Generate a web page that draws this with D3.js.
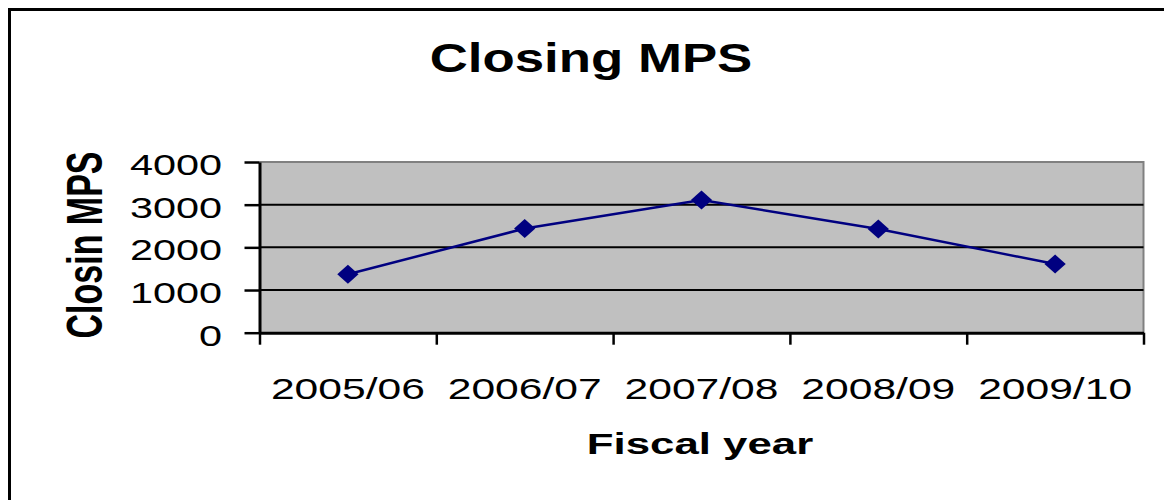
<!DOCTYPE html>
<html>
<head>
<meta charset="utf-8">
<script src="https://cdn.jsdelivr.net/npm/d3@7"></script>
<style>
  html, body { margin: 0; padding: 0; background: #fff; overflow: hidden; }
  svg { display: block; font-family: "Liberation Sans", Arial, sans-serif; }
</style>
</head>
<body>
<svg id="chart" width="1164" height="500"></svg>
<script>
// Closing market price per share by fiscal year
const fiscalYears = ["2005/06", "2006/07", "2007/08", "2008/09", "2009/10"];
const closingMps = [1370, 2440, 3110, 2430, 1610];
const yTicks = [0, 1000, 2000, 3000, 4000];

const chartTitle = "Closing MPS";
const xTitle = "Fiscal year";
const yTitle = "Closin MPS";

const W = 1164, H = 500;
const plot = { left: 259.5, right: 1143.5, top: 162, bottom: 332.7 };

const svg = d3.select("#chart");

// outer chart frame (runs off the right and bottom edges)
svg.append("rect")
  .attr("x", 9.5).attr("y", 9.5)
  .attr("width", W + 20).attr("height", H + 20)
  .attr("fill", "none").attr("stroke", "#000").attr("stroke-width", 3);

const x = d3.scaleBand().domain(fiscalYears).range([plot.left, plot.right]).padding(0);
const y = d3.scaleLinear().domain([0, 4000]).range([plot.bottom, plot.top]);

// plot area
svg.append("rect")
  .attr("x", plot.left).attr("y", plot.top)
  .attr("width", plot.right - plot.left).attr("height", plot.bottom - plot.top)
  .attr("fill", "#c0c0c0");

// top / right plot border
svg.append("path")
  .attr("d", `M${plot.left},${plot.top}H${plot.right}V${plot.bottom}`)
  .attr("fill", "none").attr("stroke", "#808080").attr("stroke-width", 2);

// horizontal gridlines
svg.append("g").selectAll("line")
  .data(yTicks.filter(d => d > 0 && d < 4000))
  .join("line")
  .attr("x1", plot.left).attr("x2", plot.right)
  .attr("y1", d => y(d)).attr("y2", d => y(d))
  .attr("stroke", "#000").attr("stroke-width", 2);

// y axis
const yAxis = svg.append("g")
  .attr("transform", `translate(${plot.left},0)`)
  .call(d3.axisLeft(y).tickValues(yTicks).tickSize(15).tickSizeOuter(0).tickFormat(""));
yAxis.select(".domain").attr("stroke", "#000").attr("stroke-width", 3);
yAxis.selectAll(".tick line").attr("stroke", "#000").attr("stroke-width", 2.5);

// y tick labels
svg.append("g").selectAll("text")
  .data(yTicks)
  .join("text")
  .attr("transform", d => `translate(222,${y(d) + 13}) scale(1.38,1)`)
  .attr("text-anchor", "end")
  .attr("font-size", 30)
  .attr("fill", "#000")
  .text(d => d);

// x axis: ticks sit on category boundaries
const boundaries = fiscalYears.map(d => x(d)).concat([x.range()[1]]);
const xAxisScale = d3.scaleLinear().domain([plot.left, plot.right]).range([plot.left, plot.right]);
const xAxis = svg.append("g")
  .attr("transform", `translate(0,${plot.bottom})`)
  .call(d3.axisBottom(xAxisScale).tickValues(boundaries).tickSize(12).tickSizeOuter(0).tickFormat(""));
xAxis.select(".domain").attr("stroke", "#000").attr("stroke-width", 3);
xAxis.selectAll(".tick line").attr("stroke", "#000").attr("stroke-width", 2.5);

// x tick labels
svg.append("g").selectAll("text")
  .data(fiscalYears)
  .join("text")
  .attr("transform", d => `translate(${x(d) + x.bandwidth() / 2},399) scale(1.42,1)`)
  .attr("text-anchor", "middle")
  .attr("font-size", 30)
  .attr("fill", "#000")
  .text(d => d);

// series line
const cx = d => x(d) + x.bandwidth() / 2;
const line = d3.line().x(d => cx(d[0])).y(d => y(d[1]));
const pts = fiscalYears.map((d, i) => [d, closingMps[i]]);
svg.append("path")
  .datum(pts)
  .attr("d", line)
  .attr("fill", "none")
  .attr("stroke", "#000080")
  .attr("stroke-width", 2.5);

// diamond markers
const diamond = {
  draw(ctx, size) {
    const r = Math.sqrt(size) / 2;
    ctx.moveTo(0, -r); ctx.lineTo(r, 0); ctx.lineTo(0, r); ctx.lineTo(-r, 0); ctx.closePath();
  }
};
svg.append("g").selectAll("path")
  .data(pts)
  .join("path")
  .attr("d", d3.symbol(diamond, 19 * 19))
  .attr("transform", d => `translate(${cx(d[0])},${y(d[1])}) scale(1.12,1)`)
  .attr("fill", "#000080");

// titles
svg.append("text")
  .attr("transform", "translate(591,72) scale(1.32,1)")
  .attr("text-anchor", "middle")
  .attr("font-size", 40)
  .attr("font-weight", "bold")
  .text(chartTitle);

svg.append("text")
  .attr("transform", "translate(700,454) scale(1.46,1)")
  .attr("text-anchor", "middle")
  .attr("font-size", 30)
  .attr("font-weight", "bold")
  .text(xTitle);

svg.append("text")
  .attr("transform", "translate(102,245) scale(1.45,1) rotate(-90)")
  .attr("text-anchor", "middle")
  .attr("font-size", 34)
  .attr("font-weight", "bold")
  .text(yTitle);
</script>
</body>
</html>
